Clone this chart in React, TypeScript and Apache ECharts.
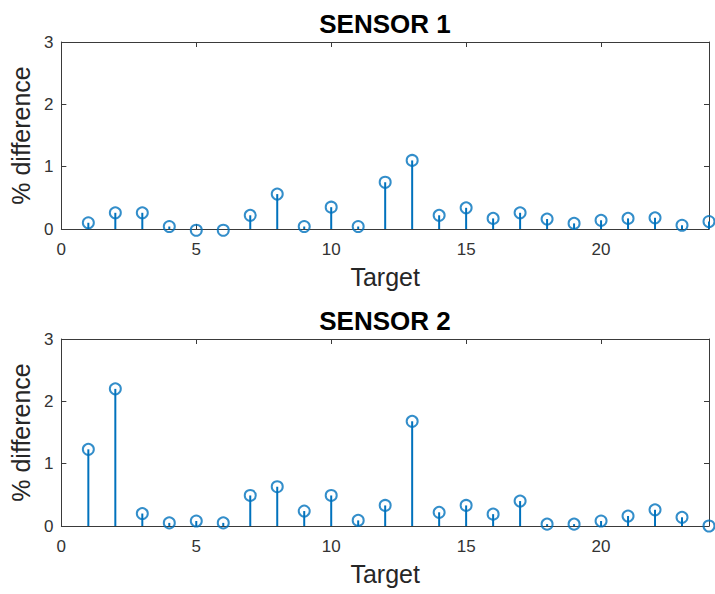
import React, { useEffect, useRef } from "react";
import * as echarts from "echarts";

const targets = [1, 2, 3, 4, 5, 6, 7, 8, 9, 10, 11, 12, 13, 14, 15, 16, 17, 18, 19, 20, 21, 22, 23, 24];
const sensor1 = [0.1, 0.26, 0.26, 0.04, -0.02, -0.02, 0.22, 0.56, 0.04, 0.35, 0.04, 0.75, 1.1, 0.22, 0.34, 0.17, 0.26, 0.16, 0.09, 0.14, 0.17, 0.18, 0.06, 0.12];
const sensor2 = [1.23, 2.2, 0.2, 0.05, 0.08, 0.05, 0.49, 0.63, 0.24, 0.49, 0.09, 0.33, 1.68, 0.22, 0.33, 0.19, 0.4, 0.03, 0.03, 0.08, 0.16, 0.26, 0.14, 0.0];
const titles = ["SENSOR 1", "SENSOR 2"];
const xLabel = "Target";
const yLabel = "% difference";

const FONT = "'Liberation Sans', Arial, Helvetica, sans-serif";
const AXIS = "#3a3a3a";
const LABEL = "#333333";
const BLUE = "#0072BD";

export default function App() {
  const ref = useRef<HTMLDivElement>(null);
  useEffect(() => {
    document.body.style.margin = "0";
    if (!ref.current) return;
    const chart = echarts.init(ref.current, undefined, { renderer: "svg" });
    const grids = [
      { left: 61, top: 42, width: 648, height: 187 },
      { left: 61, top: 339, width: 648, height: 187 },
    ];
    const xAxes: any[] = [];
    const yAxes: any[] = [];
    const series: any[] = [];
    const graphics: any[] = [];
    [sensor1, sensor2].forEach((vals, gi) => {
      const mkLine = () => ({ show: true, onZero: false, lineStyle: { color: AXIS, width: 1 } });
      const mkTick = () => ({ show: true, inside: true, length: 5, lineStyle: { color: AXIS, width: 1 } });
      xAxes.push({
        type: "value", gridIndex: gi, position: "bottom", min: 0, max: 24, interval: 5,
        axisLine: mkLine(), axisTick: mkTick(), splitLine: { show: false },
        axisLabel: { color: LABEL, fontSize: 17, fontFamily: FONT, margin: 12, showMaxLabel: false,
          formatter: (v: number) => (v === 24 ? "" : String(v)) },
        name: xLabel, nameLocation: "middle", nameGap: 35,
        nameTextStyle: { color: "#262626", fontSize: 25, fontFamily: FONT },
      });
      xAxes.push({
        show: true, type: "value", gridIndex: gi, position: "top", min: 0, max: 24, interval: 5,
        axisLine: mkLine(), axisTick: mkTick(), axisLabel: { show: false }, splitLine: { show: false },
      });
      yAxes.push({
        type: "value", gridIndex: gi, position: "left", min: 0, max: 3, interval: 1,
        axisLine: mkLine(), axisTick: mkTick(), splitLine: { show: false },
        axisLabel: { color: LABEL, fontSize: 17, fontFamily: FONT, margin: 8 },
        name: yLabel, nameLocation: "middle", nameGap: 26,
        nameTextStyle: { color: "#262626", fontSize: 25, fontFamily: FONT },
      });
      yAxes.push({
        show: true, type: "value", gridIndex: gi, position: "right", min: 0, max: 3, interval: 1,
        axisLine: mkLine(), axisTick: mkTick(), axisLabel: { show: false }, splitLine: { show: false },
      });
      const data = targets.map((t, i) => [t, vals[i]]);
      series.push({
        type: "bar", xAxisIndex: gi * 2, yAxisIndex: gi * 2, data, barWidth: 2,
        itemStyle: { color: BLUE }, silent: true,
      });
      series.push({
        type: "scatter", xAxisIndex: gi * 2, yAxisIndex: gi * 2, data, symbol: "circle",
        symbolSize: 11, clip: false,
        itemStyle: { color: "rgba(0,0,0,0)", borderColor: BLUE, borderWidth: 2 },
      });
      series.push({
        type: "scatter", xAxisIndex: gi * 2 + 1, yAxisIndex: gi * 2 + 1, data, symbolSize: 0,
        silent: true, itemStyle: { opacity: 0 },
      });
      const g = grids[gi];
      graphics.push({
        type: "text", x: 385, y: g.top - 18, style: {
          text: titles[gi], textAlign: "center", textVerticalAlign: "middle",
          font: `bold 26px ${FONT}`, fill: "#000",
        },
      });
    });
    chart.setOption({
      animation: false,
      backgroundColor: "#fff",
      grid: grids,
      xAxis: xAxes,
      yAxis: yAxes,
      series,
      graphic: graphics,
    });
    return () => chart.dispose();
  }, []);
  return <div ref={ref} style={{ width: 715, height: 594 }} />;
}
